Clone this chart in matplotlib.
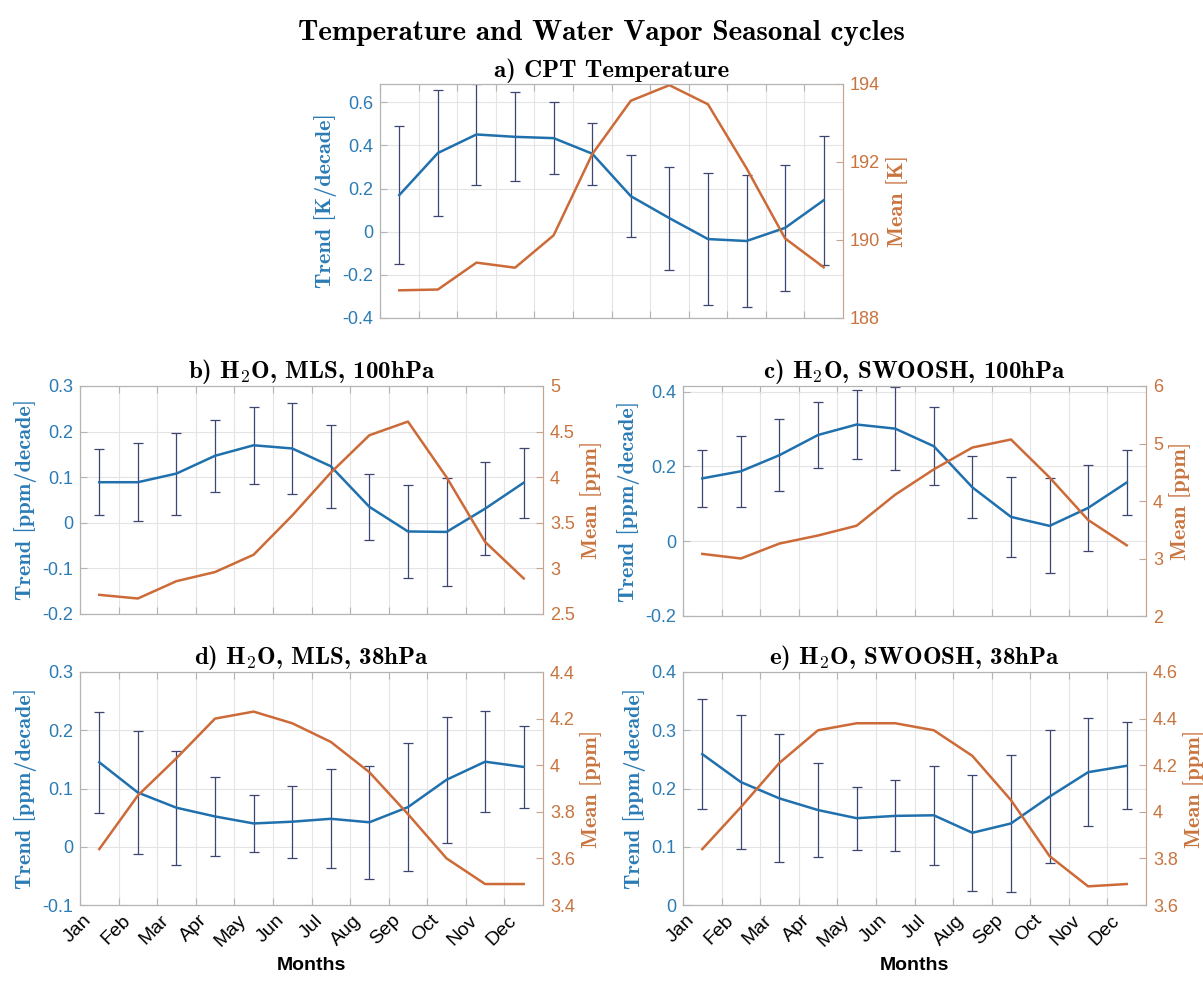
import numpy as np
import matplotlib.pyplot as plt
from matplotlib.ticker import FuncFormatter, MultipleLocator
from matplotlib.transforms import ScaledTranslation

plt.rcParams['font.family'] = ['Liberation Sans', 'DejaVu Sans']
plt.rcParams['mathtext.fontset'] = 'cm'
plt.rcParams['axes.unicode_minus'] = False

months = ['Jan', 'Feb', 'Mar', 'Apr', 'May', 'Jun',
          'Jul', 'Aug', 'Sep', 'Oct', 'Nov', 'Dec']

# a) CPT temperature
cpt_trend = [0.17, 0.365, 0.451, 0.44, 0.434, 0.362, 0.165, 0.063, -0.034, -0.043, 0.018, 0.146]
cpt_err = [0.32, 0.29, 0.236, 0.206, 0.166, 0.144, 0.19, 0.239, 0.305, 0.308, 0.293, 0.30]
cpt_mean = [188.71, 188.73, 189.42, 189.29, 190.12, 192.2, 193.57, 193.97, 193.48, 191.84, 190.04, 189.3]

# b) H2O MLS 100hPa
mls100_trend = [0.089, 0.089, 0.108, 0.147, 0.17, 0.163, 0.124, 0.035, -0.019, -0.02, 0.031, 0.088]
mls100_err = [0.072, 0.086, 0.09, 0.079, 0.084, 0.10, 0.091, 0.072, 0.101, 0.118, 0.102, 0.077]
mls100_mean = [2.71, 2.67, 2.86, 2.96, 3.15, 3.58, 4.05, 4.46, 4.61, 4.0, 3.29, 2.89]

# c) H2O SWOOSH 100hPa
sw100_trend = [0.168, 0.187, 0.23, 0.284, 0.312, 0.301, 0.254, 0.144, 0.065, 0.041, 0.089, 0.157]
sw100_err = [0.077, 0.095, 0.096, 0.088, 0.093, 0.111, 0.104, 0.083, 0.107, 0.127, 0.116, 0.088]
sw100_mean = [3.08, 3.0, 3.26, 3.4, 3.57, 4.11, 4.55, 4.93, 5.07, 4.41, 3.67, 3.23]

# d) H2O MLS 38hPa
mls38_trend = [0.145, 0.093, 0.067, 0.052, 0.04, 0.043, 0.048, 0.042, 0.068, 0.115, 0.146, 0.137]
mls38_err = [0.087, 0.105, 0.098, 0.068, 0.049, 0.062, 0.085, 0.097, 0.11, 0.108, 0.087, 0.07]
mls38_mean = [3.64, 3.87, 4.03, 4.2, 4.23, 4.18, 4.1, 3.97, 3.79, 3.6, 3.49, 3.49]

# e) H2O SWOOSH 38hPa
sw38_trend = [0.259, 0.211, 0.183, 0.163, 0.149, 0.153, 0.154, 0.124, 0.14, 0.186, 0.228, 0.239]
sw38_err = [0.095, 0.115, 0.11, 0.08, 0.054, 0.061, 0.085, 0.10, 0.117, 0.114, 0.093, 0.075]
sw38_mean = [3.84, 4.02, 4.21, 4.35, 4.38, 4.38, 4.35, 4.24, 4.05, 3.81, 3.68, 3.69]

BLUE = '#1f70ad'
ORANGE = '#cc6a38'
BLUE_TXT = '#2b7bb5'
ORANGE_TXT = '#c8743f'
ERR_C = '#3d4670'
GRID_C = '#e4e4e4'
SPINE_C = '#b4b4b4'

fmt = FuncFormatter(lambda v, p: '%g' % round(v, 6))
x = np.arange(12) + 0.5

fig = plt.figure(figsize=(12.03, 9.83), dpi=100)


def panel(rect, trend, err, mean, title, ylab_l, ylab_r, ylim_l, ylim_r, step_l, step_r, show_months):
    ax = fig.add_axes(rect)
    ax2 = ax.twinx()

    ax.errorbar(x, trend, yerr=err, fmt='none', ecolor=ERR_C, elinewidth=0.9,
                capsize=3.5, capthick=0.9, zorder=2)
    ax.plot(x, trend, color=BLUE, lw=1.8, zorder=3)
    ax2.plot(x, mean, color=ORANGE, lw=1.8)

    ax.set_xlim(0, 12)
    ax.set_ylim(*ylim_l)
    ax2.set_ylim(*ylim_r)
    ax.yaxis.set_major_locator(MultipleLocator(step_l))
    ax2.yaxis.set_major_locator(MultipleLocator(step_r))
    ax.yaxis.set_major_formatter(fmt)
    ax2.yaxis.set_major_formatter(fmt)

    ax.set_xticks(np.arange(12))
    ax.set_axisbelow(True)
    ax.grid(True, color=GRID_C, lw=0.8)

    ax.tick_params(axis='x', direction='in', top=True, length=5, color=SPINE_C,
                   labelbottom=show_months, labelsize=14)
    ax.tick_params(axis='y', direction='in', length=5, color=SPINE_C,
                   labelcolor=BLUE_TXT, labelsize=13, pad=5)
    ax2.tick_params(axis='y', direction='in', length=5, color='#c9a48c',
                    labelcolor=ORANGE_TXT, labelsize=13, pad=5)

    for s in ['top', 'bottom', 'left']:
        ax.spines[s].set_color(SPINE_C)
        ax2.spines[s].set_color(SPINE_C)
    ax2.spines['right'].set_color('#c9a48c')
    ax.spines['right'].set_color('#c9a48c')

    if show_months:
        ax.set_xticklabels(months, rotation=45, ha='right', va='top',
                           rotation_mode='anchor')
        shift = ScaledTranslation(3 / 100, -2 / 100, fig.dpi_scale_trans)
        for lbl in ax.get_xticklabels():
            lbl.set_transform(lbl.get_transform() + shift)
        ax.set_xlabel('Months', fontsize=14, fontweight='bold', labelpad=5)

    ax.set_title(title, family='cmb10', fontsize=18, pad=5)
    ax.set_ylabel(ylab_l, family='cmb10', fontsize=16, color=BLUE_TXT)
    ax2.set_ylabel(ylab_r, family='cmb10', fontsize=16, color=ORANGE_TXT)
    return ax, ax2


W = 463 / 1203
panel([380 / 1203, 1 - 318 / 983, W, 234 / 983], cpt_trend, cpt_err, cpt_mean,
      'a) CPT Temperature', 'Trend [K/decade]', 'Mean [K]',
      (-0.4, 0.685), (188, 194), 0.2, 2, False)
panel([80 / 1203, 1 - 614 / 983, W, 228 / 983], mls100_trend, mls100_err, mls100_mean,
      'b) H$_2$O, MLS, 100hPa', 'Trend [ppm/decade]', 'Mean [ppm]',
      (-0.2, 0.3), (2.5, 5), 0.1, 0.5, False)
panel([683 / 1203, 1 - 616 / 983, W, 230 / 983], sw100_trend, sw100_err, sw100_mean,
      'c) H$_2$O, SWOOSH, 100hPa', 'Trend [ppm/decade]', 'Mean [ppm]',
      (-0.2, 0.415), (2, 6), 0.2, 1, False)
panel([80 / 1203, 1 - 905 / 983, W, 233 / 983], mls38_trend, mls38_err, mls38_mean,
      'd) H$_2$O, MLS, 38hPa', 'Trend [ppm/decade]', 'Mean [ppm]',
      (-0.1, 0.3), (3.4, 4.4), 0.1, 0.2, True)
panel([683 / 1203, 1 - 905 / 983, W, 233 / 983], sw38_trend, sw38_err, sw38_mean,
      'e) H$_2$O, SWOOSH, 38hPa', 'Trend [ppm/decade]', 'Mean [ppm]',
      (0, 0.4), (3.6, 4.6), 0.1, 0.2, True)

fig.text(0.5, 1 - 33 / 983, 'Temperature and Water Vapor Seasonal cycles',
         family='cmb10', fontsize=21, ha='center', va='center')

fig.savefig('out.png', dpi=100)
